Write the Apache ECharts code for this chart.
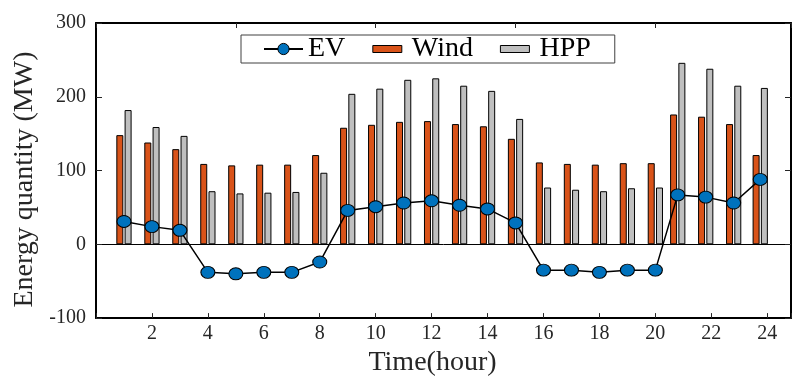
<!DOCTYPE html>
<html><head><meta charset="utf-8">
<script src="https://cdn.jsdelivr.net/npm/echarts@6/dist/echarts.min.js"></script>
<style>html,body{margin:0;padding:0;background:#fff}#c{width:794px;height:382px}</style>
</head><body><div id="c"></div>
<script>
const hours = [1,2,3,4,5,6,7,8,9,10,11,12,13,14,15,16,17,18,19,20,20.8,21.8,22.8,23.75];
const wind = [148,138,129,109,107,108,108,121,158,162,166,167,163,160,143,111,109,108,110,110,176,173,163,121];
const hpp  = [182,159,147,72,69,70,71,97,204,211,223,225,215,208,170,77,74,72,76,77,246,238,215,212];
const ev   = [31,24,19,-38,-40,-38,-38,-24,46,51,56,59,53,48,29,-35,-35,-38,-35,-35,67,64,56,88];
const xTickLabels = [2,4,6,8,10,12,14,16,18,20,22,24];
const yTickLabels = [-100,0,100,200,300];

const FONT = 'Liberation Serif';
const TXT = '#262626';
const chart = echarts.init(document.getElementById('c'), null, {renderer:'canvas'});
const pair = (xs, ys) => xs.map((x,i)=>[x, ys[i]]);
const barIcon = 'path://M0,0 M39,14 M5,3.5 L34,3.5 L34,10.5 L5,10.5 Z';

chart.setOption({
  animation: false,
  backgroundColor: '#fff',
  grid: {left: 96, top: 23, right: 2, bottom: 62, containLabel: false},
  legend: {
    left: 241, top: 35,
    orient: 'horizontal',
    itemWidth: 39, itemHeight: 14, itemGap: 22,
    padding: [0, 24, 0, 22],
    borderColor: '#404040', borderWidth: 1,
    backgroundColor: '#fff',
    textStyle: {fontFamily: FONT, fontSize: 28, color: '#000', lineHeight: 26},
    itemStyle: {borderWidth: 1, borderColor: '#000'},
    data: [
      {name: 'EV'},
      {name: 'Wind', icon: barIcon},
      {name: 'HPP', icon: barIcon}
    ]
  },
  xAxis: [
    {
      type: 'value', min: 0, max: 24.85, interval: 2, position: 'bottom',
      name: 'Time(hour)', nameLocation: 'middle', nameGap: 24,
      nameTextStyle: {fontFamily: FONT, fontSize: 28, color: TXT, padding: [0, 22, 0, 0]},
      axisLine: {onZero: false, lineStyle: {color: '#000', width: 2}},
      axisTick: {inside: true, length: 5, lineStyle: {color: '#262626', width: 1}},
      axisLabel: {fontFamily: FONT, fontSize: 20, color: TXT, margin: 6,
        formatter: v => xTickLabels.includes(v) ? String(v) : ''},
      splitLine: {show: false}
    },
    {
      type: 'value', min: 0, max: 24.85, interval: 5, position: 'top',
      axisLine: {onZero: false, lineStyle: {color: '#000', width: 2}},
      axisTick: {inside: true, length: 5, lineStyle: {color: '#262626', width: 1}},
      axisLabel: {show: false},
      splitLine: {show: false}
    },
    {
      type: 'value', min: 0, max: 24.85, position: 'bottom',
      axisLine: {onZero: true, onZeroAxisIndex: 0, lineStyle: {color: '#000', width: 1}},
      axisTick: {show: false}, axisLabel: {show: false}, splitLine: {show: false}
    }
  ],
  yAxis: [
    {
      type: 'value', min: -100, max: 300, interval: 100, position: 'left',
      name: 'Energy quantity (MW)', nameLocation: 'middle', nameGap: 56, nameRotate: 90,
      nameTextStyle: {fontFamily: FONT, fontSize: 28, color: TXT, padding: [0, 18, 0, 0]},
      axisLine: {onZero: false, lineStyle: {color: '#000', width: 2}},
      axisTick: {inside: true, length: 6, lineStyle: {color: '#262626', width: 1}},
      axisLabel: {fontFamily: FONT, fontSize: 20, color: TXT, margin: 10,
        formatter: v => yTickLabels.includes(v) ? String(v) : ''},
      splitLine: {show: false}
    },
    {
      type: 'value', min: -100, max: 300, interval: 100, position: 'right',
      axisLine: {show: true, onZero: false, lineStyle: {color: '#000', width: 2}},
      axisTick: {show: true, inside: true, length: 6, lineStyle: {color: '#262626', width: 1}},
      axisLabel: {show: false},
      splitLine: {show: false}
    }
  ],
  series: [
    {
      name: 'Wind', type: 'bar', xAxisIndex: 0, yAxisIndex: 0,
      data: pair(hours, wind), barWidth: 7, barGap: '18%',
      itemStyle: {color: '#D95319', borderColor: '#000', borderWidth: 1}
    },
    {
      name: 'HPP', type: 'bar', xAxisIndex: 0, yAxisIndex: 0,
      data: pair(hours, hpp), barWidth: 7, barGap: '18%',
      itemStyle: {color: '#BFBFBF', borderColor: '#000', borderWidth: 1}
    },
    {
      name: 'EV', type: 'line', xAxisIndex: 0, yAxisIndex: 0,
      data: pair(hours, ev), z: 5,
      symbol: 'circle', symbolSize: [14, 12], showAllSymbol: true,
      lineStyle: {color: '#000', width: 1.5},
      itemStyle: {color: '#0072BD', borderColor: '#000', borderWidth: 1}
    }
  ]
});
</script>
</body></html>
